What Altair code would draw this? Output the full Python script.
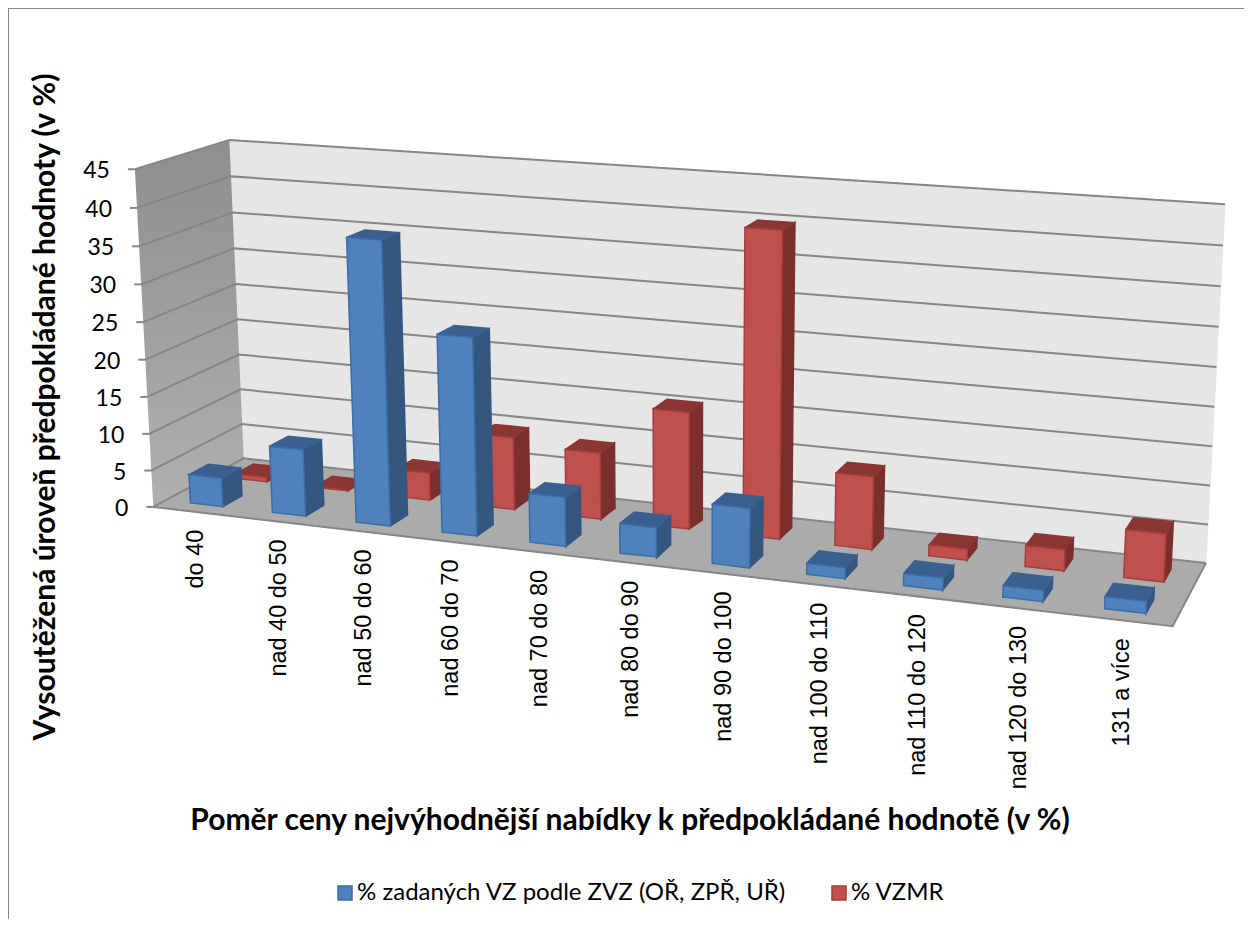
import altair as alt
import numpy as np
import pandas as pd

categories = ["do 40", "nad 40 do 50", "nad 50 do 60", "nad 60 do 70", "nad 70 do 80", "nad 80 do 90",
              "nad 90 do 100", "nad 100 do 110", "nad 110 do 120", "nad 120 do 130", "131 a více"]
blue_values = [3.9, 9.0, 37.5, 26.0, 6.4, 3.8, 7.6, 1.4, 1.5, 1.4, 1.5]
red_values = [0.6, 0.1, 3.7, 9.8, 8.9, 15.5, 39.9, 9.5, 1.4, 2.7, 6.1]
y_ticks = [0, 5, 10, 15, 20, 25, 30, 35, 40, 45]
series_names = ["% zadaných VZ podle ZVZ (OŘ, ZPŘ, UŘ)", "% VZMR"]
x_title = "Poměr ceny nejvýhodnější nabídky k předpokládané hodnotě (v %)"
y_title = "Vysoutěžená úroveň předpokládané hodnoty (v %)"

Y_MAX = 45.0
FONT = "Lato"
n_cat = len(categories)
U_MARGIN, U_WIDTH = 0.30, 0.40
ROWS = {0: (0.135, 0.345), 1: (0.63, 0.84)}

# camera calibration: box corners and a few column feet -> page position
calibration = [
    (0, 0, 0, 153, 507), (1, 0, 0, 1173, 628), (1, 1, 0, 1206, 563), (0, 1, 0, 243, 459),
    (0, 0, 1, 134, 170), (0, 1, 1, 230, 140), (1, 1, 1, 1225, 204),
]
for i, xl, yl, xr, yr in [(0, 191, 502, 223, 506), (2, 356, 522, 391, 526), (4, 529, 543, 567, 546),
                          (6, 712, 563, 750, 568), (8, 903, 585, 943, 590), (10, 1104, 608, 1146, 613)]:
    calibration.append(((i + U_MARGIN) / n_cat, ROWS[0][0], 0, xl, yl))
    calibration.append(((i + U_MARGIN + U_WIDTH) / n_cat, ROWS[0][0], 0, xr, yr))
calibration.append(((2 + U_MARGIN) / n_cat, ROWS[0][0], 37.5 / Y_MAX, 347, 237))

A, b = [], []
for u, v, w, x, y in calibration:
    A.append([u, v, w, 1, 0, 0, 0, 0, -u * x, -v * x, -w * x]); b.append(x)
    A.append([0, 0, 0, 0, u, v, w, 1, -u * y, -v * y, -w * y]); b.append(y)
P = np.append(np.linalg.lstsq(np.array(A, float), np.array(b, float), rcond=None)[0], 1).reshape(3, 4)


def project(u, v, value=0.0):
    p = P @ np.array([u, v, value / Y_MAX, 1.0])
    return (float(p[0] / p[2]), float(p[1] / p[2]))


def polygon_rows(verts, key, face):
    """Convex polygon -> rows of (x, y, y2) for an area mark."""
    xs = sorted({round(v[0], 2) for v in verts})
    n = len(verts)
    rows = []
    for x in xs:
        ys = []
        for i in range(n):
            (x0, y0), (x1, y1) = verts[i], verts[(i + 1) % n]
            lo, hi = min(x0, x1), max(x0, x1)
            if lo - 0.01 <= x <= hi + 0.01:
                if abs(x1 - x0) < 0.01:
                    ys += [y0, y1]
                else:
                    ys.append(y0 + (y1 - y0) * (x - x0) / (x1 - x0))
        rows.append({"x": x, "y": min(ys), "y2": max(ys), "key": key, "face": face})
    return rows


def bar_faces(idx, value, row, name, side_key, top_key):
    u0 = (idx + U_MARGIN) / n_cat
    u1 = (idx + U_MARGIN + U_WIDTH) / n_cat
    v0, v1 = ROWS[row]
    tag = f"{row}-{idx:02d}"
    front = [project(u0, v0, 0), project(u1, v0, 0), project(u1, v0, value), project(u0, v0, value)]
    side = [project(u1, v0, 0), project(u1, v1, 0), project(u1, v1, value), project(u1, v0, value)]
    top = [project(u0, v0, value), project(u1, v0, value), project(u1, v1, value), project(u0, v1, value)]
    return (polygon_rows(side, side_key, tag + "s") + polygon_rows(top, top_key, tag + "t")
            + polygon_rows(front, name, tag + "f"))


bars = []
for i, val in enumerate(red_values):
    bars += bar_faces(i, val, 1, series_names[1], "red side", "red top")
for i, val in enumerate(blue_values):
    bars += bar_faces(i, val, 0, series_names[0], "blue side", "blue top")
bars_df = pd.DataFrame(bars)

back = polygon_rows([project(0, 1, 0), project(1, 1, 0), project(1, 1, 45), project(0, 1, 45)], "wall", "wall")
floor = polygon_rows([project(0, 0, 0), project(1, 0, 0), project(1, 1, 0), project(0, 1, 0)], "floor", "floor")
left = polygon_rows([project(0, 0, 0), project(0, 1, 0), project(0, 1, 45), project(0, 0, 45)], "left", "left")
back_df = pd.DataFrame(back + floor)
left_df = pd.DataFrame(left)

grid = []
for t in y_ticks:
    for order, (x, y) in enumerate([project(0, 0, t), project(0, 1, t), project(1, 1, t)]):
        grid.append({"x": x, "y": y, "g": f"g{t}", "o": order})
    x, y = project(0, 0, t)
    grid.append({"x": x, "y": y, "g": f"t{t}", "o": 1})
    grid.append({"x": x - 7, "y": y, "g": f"t{t}", "o": 0})
for order, (x, y) in enumerate([project(0, 0, 0), project(1, 0, 0), project(1, 1, 0)]):
    grid.append({"x": x, "y": y, "g": "edge", "o": order})
grid_df = pd.DataFrame(grid)

tick_df = pd.DataFrame([{"x": project(0, 0, t)[0] - 25, "y": project(0, 0, t)[1] + 2, "t": str(t)} for t in y_ticks])
cat_df = pd.DataFrame([
    {"x": project((i + 0.5) / n_cat, 0, 0)[0] + 2, "y": project((i + 0.5) / n_cat, 0, 0)[1] + 18, "t": c}
    for i, c in enumerate(categories)
])
frame_df = pd.DataFrame({"x": [8, 8, 1244], "y": [919, 8, 8], "o": [0, 1, 2]})

x_enc = alt.X("x:Q", scale=alt.Scale(domain=[8, 1244], range=[0, 1236], nice=False), axis=None)
y_enc = alt.Y("y:Q", scale=alt.Scale(domain=[8, 919], range=[0, 911], nice=False), axis=None, stack=None)

keys = series_names + ["blue side", "blue top", "red side", "red top", "wall", "floor"]
fills = ["#4F81BD", "#C0504D", "#34567F", "#3A6090", "#7A2F2D", "#8C3633", "#E6E6E6", "#ABABAB"]
strokes = ["#3A6EA5", "#A33F3C", "#34567F", "#3A6090", "#7A2F2D", "#8C3633", "#E6E6E6", "#ABABAB"]
legend = alt.Legend(values=series_names, title=None, orient="none", legendX=325, legendY=873, direction="horizontal",
                    columns=2, symbolType="square", symbolSize=196, symbolStrokeWidth=1.5,
                    labelFont=FONT, labelFontSize=24, labelColor="#000000", labelLimit=700, columnPadding=40,
                    labelOffset=0)
color_enc = alt.Color("key:N", scale=alt.Scale(domain=keys, range=fills), legend=legend)
stroke_enc = alt.Stroke("key:N", scale=alt.Scale(domain=keys, range=strokes), legend=legend)

frame = alt.Chart(frame_df).mark_line(color="#868686", strokeWidth=2).encode(x=x_enc, y=y_enc, order="o:Q")
backdrop = alt.Chart(back_df).mark_area(strokeWidth=1).encode(
    x=x_enc, y=y_enc, y2="y2:Q", color=color_enc, stroke=stroke_enc, detail="face:N")
left_wall = alt.Chart(left_df).mark_area(
    color=alt.Gradient(gradient="linear", x1=0, x2=0, y1=0, y2=1,
                       stops=[alt.GradientStop(color="#8E8E8E", offset=0), alt.GradientStop(color="#B0B0B0", offset=1)])
).encode(x=x_enc, y=y_enc, y2="y2:Q", detail="face:N")
grid_lines = alt.Chart(grid_df).mark_line(color="#868686", strokeWidth=2).encode(
    x=x_enc, y=y_enc, detail="g:N", order="o:Q")
bar_marks = alt.Chart(bars_df).mark_area(strokeWidth=1.5).encode(
    x=x_enc, y=y_enc, y2="y2:Q", color=color_enc, stroke=stroke_enc, detail="face:N")
tick_text = alt.Chart(tick_df).mark_text(font=FONT, fontSize=23, align="right", baseline="middle", color="#000000").encode(
    x=x_enc, y=y_enc, text="t:N")
cat_text = alt.Chart(cat_df).mark_text(font="Liberation Sans", fontSize=23.5, angle=270, align="right", baseline="middle",
                                       color="#000000").encode(x=x_enc, y=y_enc, text="t:N")
xt = alt.Chart(pd.DataFrame({"x": [630], "y": [821], "t": [x_title]})).mark_text(
    font=FONT, fontSize=30, fontWeight="bold", color="#000000", baseline="middle").encode(x=x_enc, y=y_enc, text="t:N")
yt = alt.Chart(pd.DataFrame({"x": [46], "y": [407], "t": [y_title]})).mark_text(
    font=FONT, fontSize=30, fontWeight="bold", color="#000000", angle=270, baseline="middle").encode(x=x_enc, y=y_enc, text="t:N")

chart = alt.layer(frame, backdrop, left_wall, grid_lines, bar_marks, tick_text, cat_text, xt, yt).properties(
    width=1236, height=911, padding=0, background="white", autosize=alt.AutoSizeParams(type="none")
).configure_view(stroke=None)

chart.save("out.html", embed_options={"renderer": "svg", "actions": False})
